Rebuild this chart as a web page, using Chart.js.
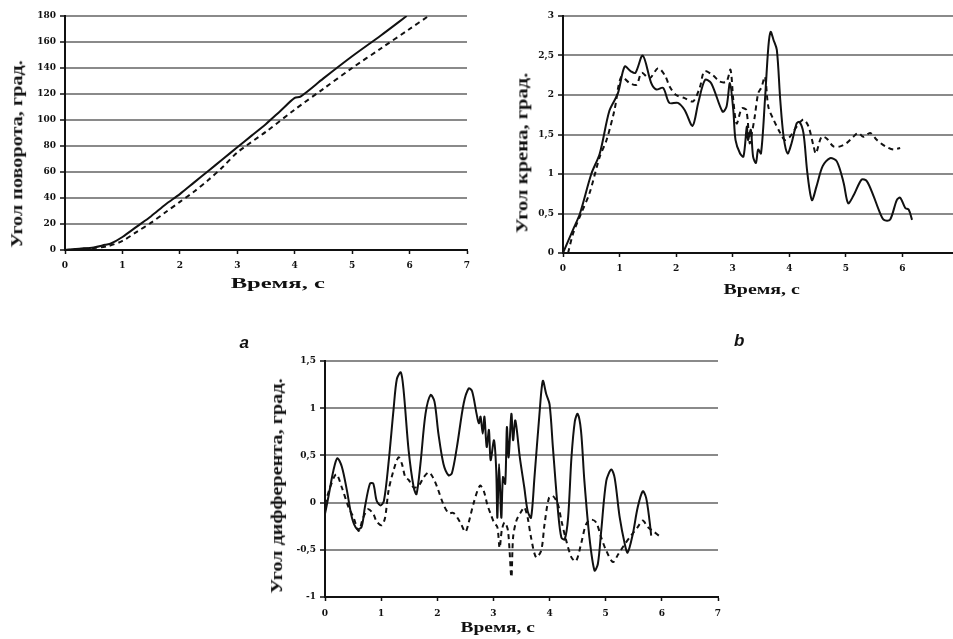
<!DOCTYPE html>
<html>
<head>
<meta charset="utf-8">
<script src="https://cdn.jsdelivr.net/npm/chart.js@4.4.1/dist/chart.umd.min.js"></script>
<style>
  html, body { margin: 0; padding: 0; background: #fff; }
  body { position: relative; width: 953px; height: 639px; overflow: hidden; }
  canvas { position: absolute; }
</style>
</head>
<body>
<canvas id="chartA" width="480" height="300" style="left:0;top:0"></canvas>
<canvas id="chartB" width="470" height="310" style="left:500px;top:0"></canvas>
<canvas id="chartC" width="500" height="300" style="left:240px;top:330px"></canvas>
<script>
// a) угол поворота
const aSolidTime = [0, 0.25, 0.5, 0.7, 0.8, 1, 1.25, 1.5, 1.75, 2, 2.25, 2.5, 2.75, 3, 3.25, 3.5, 3.75, 4, 4.1, 4.5, 5, 5.5, 5.95];
const aSolidVal  = [0, 1, 2, 4, 5, 10, 18, 26, 35, 43, 52, 61, 70, 79, 88, 97, 107, 117, 118, 132, 149, 165, 180];
const aDashTime  = [0, 0.5, 0.75, 1, 1.25, 1.5, 1.75, 2, 2.25, 2.5, 2.75, 3, 3.5, 4, 4.5, 5, 5.5, 6, 6.33];
const aDashVal   = [0, 1.5, 3, 7, 14, 21, 29, 37, 45, 54, 64, 75, 91, 108, 124, 140, 155, 170, 180];

// b) угол крена
const bSolidTime = [0, 0.18, 0.3, 0.5, 0.65, 0.82, 0.97, 1.09, 1.2, 1.28, 1.41, 1.56, 1.65, 1.77, 1.88, 2.03, 2.15, 2.29, 2.39, 2.51,
  2.62, 2.82, 2.89, 2.95, 3.01, 3.05, 3.13, 3.19, 3.25, 3.27, 3.32, 3.36, 3.41, 3.45, 3.5, 3.57, 3.63, 3.67, 3.72, 3.78,
  3.84, 3.9, 3.97, 4.04, 4.13, 4.18, 4.25, 4.32, 4.4, 4.48, 4.59, 4.72, 4.84, 4.96, 5.04, 5.13, 5.28, 5.37, 5.49, 5.58,
  5.67, 5.78, 5.9, 5.96, 6.05, 6.11, 6.17];
const bSolidVal = [0, 0.3, 0.5, 1.0, 1.26, 1.8, 2.02, 2.36, 2.3, 2.28, 2.5, 2.15, 2.07, 2.09, 1.9, 1.9, 1.81, 1.61, 1.9, 2.19,
  2.15, 1.79, 1.85, 2.15, 1.81, 1.43, 1.26, 1.22, 1.6, 1.43, 1.56, 1.22, 1.14, 1.31, 1.26, 1.94, 2.61, 2.8, 2.7, 2.57,
  1.94, 1.47, 1.26, 1.39, 1.64, 1.66, 1.52, 1.01, 0.67, 0.84, 1.1, 1.2, 1.16, 0.89, 0.63, 0.72, 0.93, 0.91, 0.72, 0.55,
  0.42, 0.42, 0.67, 0.7, 0.57, 0.55, 0.42];
const bDashTime = [0.09, 0.18, 0.32, 0.47, 0.65, 0.77, 0.91, 1.03, 1.18, 1.3, 1.39, 1.53, 1.68, 1.8, 1.89, 2.0, 2.15, 2.3, 2.42, 2.5,
  2.65, 2.77, 2.89, 2.96, 3.01, 3.07, 3.16, 3.24, 3.3, 3.34, 3.39, 3.45, 3.51, 3.57, 3.63, 3.72, 3.84, 3.92, 4.01, 4.13,
  4.25, 4.34, 4.43, 4.47, 4.57, 4.66, 4.78, 4.9, 5.01, 5.13, 5.22, 5.31, 5.43, 5.55, 5.7, 5.84, 5.96];
const bDashVal = [0, 0.25, 0.5, 0.76, 1.22, 1.43, 1.81, 2.23, 2.15, 2.13, 2.28, 2.21, 2.34, 2.25, 2.1, 2.0, 1.96, 1.92, 2.1, 2.3,
  2.25, 2.17, 2.17, 2.32, 1.94, 1.64, 1.83, 1.81, 1.39, 1.52, 1.73, 2.02, 2.1, 2.23, 1.85, 1.69, 1.52, 1.43, 1.47, 1.6,
  1.69, 1.6, 1.35, 1.26, 1.47, 1.45, 1.35, 1.35, 1.39, 1.47, 1.52, 1.47, 1.52, 1.43, 1.35, 1.31, 1.33];

// c) угол дифферента
const cSolidTime = [0, 0.06, 0.15, 0.22, 0.3, 0.39, 0.48, 0.57, 0.65, 0.71, 0.8, 0.86, 0.92, 0.99, 1.05, 1.13, 1.22, 1.28, 1.35, 1.4,
  1.49, 1.58, 1.63, 1.7, 1.79, 1.88, 1.95, 2.02, 2.11, 2.2, 2.26, 2.35, 2.47, 2.56, 2.62, 2.7, 2.74, 2.77, 2.81, 2.84,
  2.88, 2.92, 2.95, 3.01, 3.05, 3.07, 3.1, 3.14, 3.17, 3.21, 3.24, 3.27, 3.32, 3.35, 3.39, 3.47, 3.55, 3.61, 3.67, 3.73,
  3.82, 3.88, 3.94, 4.0, 4.06, 4.15, 4.21, 4.27, 4.33, 4.39, 4.45, 4.5, 4.56, 4.62, 4.71, 4.8, 4.86, 4.92, 5.01, 5.1,
  5.16, 5.25, 5.34, 5.39, 5.48, 5.57, 5.66, 5.72, 5.78, 5.81];
const cSolidVal = [-0.12, 0.06, 0.34, 0.47, 0.38, 0.13, -0.16, -0.28, -0.26, -0.05, 0.2, 0.2, 0.02, -0.03, 0.02, 0.41, 0.98, 1.31, 1.38, 1.19,
  0.55, 0.16, 0.09, 0.41, 0.94, 1.14, 1.07, 0.73, 0.41, 0.29, 0.31, 0.59, 1.05, 1.21, 1.18, 0.94, 0.84, 0.91, 0.73, 0.91,
  0.59, 0.77, 0.45, 0.66, 0.34, -0.16, 0.41, -0.16, 0.27, 0.2, 0.8, 0.48, 0.94, 0.66, 0.87, 0.48, 0.16, -0.09, -0.16, 0.26,
  0.94, 1.29, 1.15, 1.04, 0.58, -0.09, -0.37, -0.39, -0.16, 0.48, 0.86, 0.94, 0.76, 0.23, -0.37, -0.72, -0.65, -0.3, 0.23, 0.35,
  0.26, -0.16, -0.44, -0.53, -0.34, -0.05, 0.12, 0.05, -0.19, -0.35];
const cDashTime = [0, 0.09, 0.2, 0.3, 0.42, 0.51, 0.6, 0.68, 0.77, 0.86, 0.92, 1.01, 1.07, 1.13, 1.22, 1.31, 1.37, 1.43, 1.49, 1.58,
  1.67, 1.76, 1.85, 1.92, 2.0, 2.11, 2.2, 2.29, 2.41, 2.5, 2.56, 2.65, 2.76, 2.83, 2.89, 2.95, 3.01, 3.07, 3.11, 3.15,
  3.2, 3.26, 3.32, 3.35, 3.41, 3.5, 3.55, 3.61, 3.67, 3.76, 3.85, 3.91, 3.99, 4.06, 4.15, 4.21, 4.3, 4.39, 4.47, 4.56,
  4.65, 4.74, 4.83, 4.92, 5.01, 5.13, 5.22, 5.34, 5.45, 5.57, 5.66, 5.75, 5.84, 5.99];
const cDashVal = [-0.02, 0.16, 0.3, 0.16, -0.05, -0.16, -0.3, -0.16, -0.07, -0.12, -0.2, -0.24, -0.16, 0.12, 0.34, 0.48, 0.41, 0.27, 0.24, 0.16,
  0.18, 0.27, 0.32, 0.27, 0.16, -0.02, -0.11, -0.11, -0.21, -0.31, -0.21, 0.0, 0.18, 0.12, -0.02, -0.12, -0.21, -0.26, -0.48, -0.29,
  -0.21, -0.3, -0.79, -0.37, -0.19, -0.09, -0.05, -0.16, -0.37, -0.58, -0.51, -0.23, 0.05, 0.07, -0.02, -0.19, -0.41, -0.58, -0.62, -0.44,
  -0.23, -0.18, -0.21, -0.37, -0.51, -0.63, -0.55, -0.44, -0.35, -0.26, -0.19, -0.26, -0.3, -0.37];

const xTitle = 'Время, с';
const yTitles = ['Угол поворота, град.', 'Угол крена, град.', 'Угол дифферента, град.'];

const ink = '#111';
const gridGrey = '#8a8a8a';
const tickFont = { family: '"DejaVu Serif", serif', weight: 'bold', size: 9 };

function toPoints(t, v) {
  return t.map((x, i) => ({ x: x, y: v[i] }));
}

function build(id, solid, dashed, yMin, yMax, yStep, box) {
  new Chart(document.getElementById(id), {
    type: 'line',
    data: {
      datasets: [
        { data: solid, borderColor: ink, borderWidth: 2, pointRadius: 0, tension: 0.3 },
        { data: dashed, borderColor: ink, borderWidth: 2, borderDash: [5, 4], pointRadius: 0, tension: 0.3 }
      ]
    },
    options: {
      responsive: false,
      animation: false,
      layout: { padding: { left: 0, top: box.top, right: box.right, bottom: 0 } },
      plugins: { legend: { display: false }, tooltip: { enabled: false } },
      scales: {
        x: {
          type: 'linear', min: 0, max: 7,
          afterFit: s => { s.height = box.xh; },
          ticks: { stepSize: 1, font: tickFont, color: ink, padding: box.xpad, maxRotation: 0 },
          grid: { drawOnChartArea: false, drawTicks: true, tickLength: 4, tickColor: ink, tickWidth: 1.5 },
          border: { color: ink, width: 2 }
        },
        y: {
          min: yMin, max: yMax,
          afterFit: s => { s.width = box.yw; },
          ticks: {
            stepSize: yStep, font: tickFont, color: ink, padding: 4,
            callback: v => String(v).replace('.', ',')
          },
          grid: {
            color: c => (c.tick && c.tick.value === yMin) ? 'rgba(0,0,0,0)' : gridGrey,
            lineWidth: 2, tickColor: ink, tickLength: 5, tickWidth: 1.5
          },
          border: { color: ink, width: 2 }
        }
      }
    }
  });
}

build('chartA', toPoints(aSolidTime, aSolidVal), toPoints(aDashTime, aDashVal), 0, 180, 20,
  { top: 16, right: 13, yw: 65, xh: 50, xpad: 6 });
build('chartB', toPoints(bSolidTime, bSolidVal), toPoints(bDashTime, bDashVal), 0, 3, 0.5,
  { top: 16, right: 11, yw: 63, xh: 57, xpad: 6 });
build('chartC', toPoints(cSolidTime, cSolidVal), toPoints(cDashTime, cDashVal), -1, 1.5, 0.5,
  { top: 31, right: 22, yw: 85, xh: 33, xpad: 7 });

// axis titles and panel letters as real text
function addText(text, cx, cy, len, size, vertical, font) {
  const s = document.createElement('span');
  s.textContent = text;
  s.style.cssText = 'position:absolute;white-space:nowrap;line-height:1;color:#111;font:' + font + ';font-size:' + size + 'px;';
  document.body.appendChild(s);
  const w = s.offsetWidth, h = s.offsetHeight;
  s.style.left = (cx - w / 2) + 'px';
  s.style.top = (cy - h / 2) + 'px';
  const k = len ? len / w : 1;
  s.style.transform = (vertical ? 'rotate(-90deg) ' : '') + 'scaleX(' + k + ')';
}

const titleFont = 'bold 16px "Liberation Serif", "Times New Roman", serif';
addText(yTitles[0], 17, 153.5, 187, 16, true, titleFont);
addText(yTitles[1], 522, 152.5, 161, 16, true, titleFont);
addText(yTitles[2], 277, 485.5, 215, 16, true, titleFont);
addText(xTitle, 277.5, 283, 95, 15, false, titleFont);
addText(xTitle, 761.5, 289, 77, 15, false, titleFont);
addText(xTitle, 497.5, 627, 75, 15, false, titleFont);

const letterFont = 'bold italic 17px "Liberation Sans", Arial, sans-serif';
addText('a', 244, 343, 0, 17, false, letterFont);
addText('b', 739, 341, 0, 17, false, letterFont);
</script>
</body>
</html>
